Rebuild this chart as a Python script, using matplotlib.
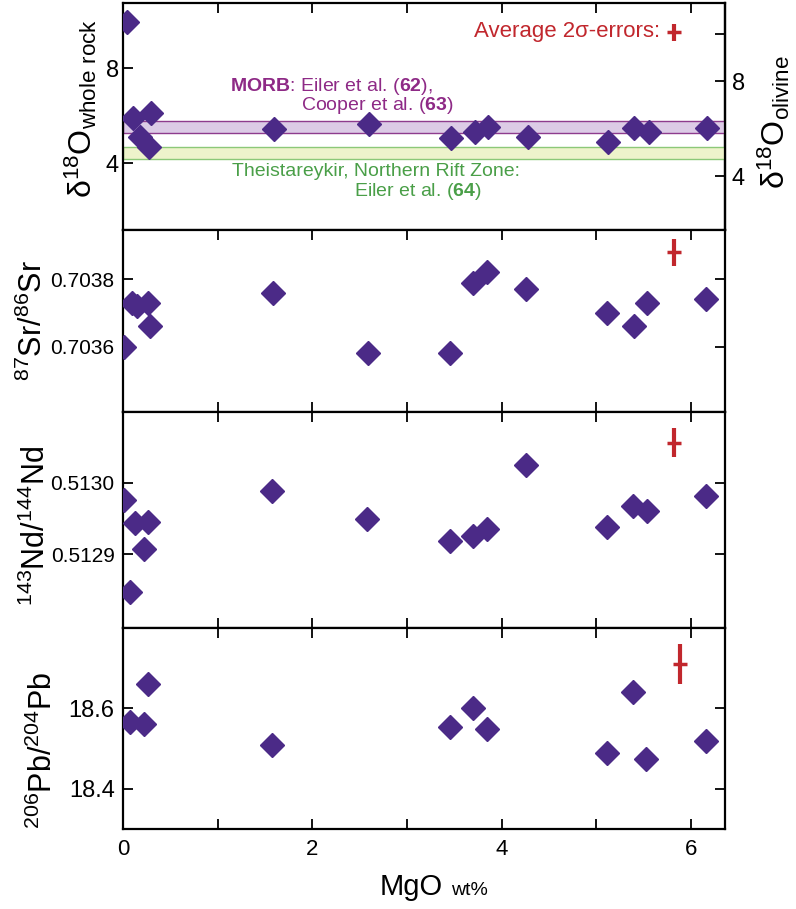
import matplotlib
matplotlib.use("Agg")
import matplotlib.pyplot as plt

plt.rcParams['font.family'] = ['Liberation Sans', 'DejaVu Sans']
plt.rcParams['mathtext.fontset'] = 'custom'
plt.rcParams['mathtext.rm'] = 'Liberation Sans'
plt.rcParams['mathtext.bf'] = 'Liberation Sans:bold'
plt.rcParams['mathtext.default'] = 'regular'

# data
o_mgo = [0.04, 0.11, 0.18, 0.27, 0.30, 1.59, 2.60, 3.47, 3.72, 3.86, 4.28, 5.12, 5.40, 5.56, 6.17]
o_d18 = [9.95, 5.88, 5.09, 4.67, 6.11, 5.43, 5.64, 5.05, 5.32, 5.53, 5.10, 4.90, 5.46, 5.32, 5.46]

sr_mgo = [0.01, 0.10, 0.15, 0.26, 0.29, 1.58, 2.59, 3.45, 3.70, 3.85, 4.26, 5.11, 5.40, 5.54, 6.16]
sr_ratio = [0.70360, 0.70373, 0.70372, 0.70373, 0.70366, 0.70376, 0.70358, 0.70358,
            0.70379, 0.70382, 0.70377, 0.70370, 0.70366, 0.70373, 0.70374]

nd_mgo = [0.01, 0.13, 0.26, 0.22, 0.07, 1.57, 2.58, 3.45, 3.70, 3.85, 4.26, 5.11, 5.39, 5.54, 6.16]
nd_ratio = [0.512976, 0.512944, 0.512945, 0.512908, 0.512847, 0.512989, 0.512950, 0.512919,
            0.512926, 0.512935, 0.513025, 0.512938, 0.512967, 0.512960, 0.512982]

pb_mgo = [0.07, 0.22, 0.26, 1.57, 3.45, 3.70, 3.85, 5.11, 5.39, 5.53, 6.16]
pb_ratio = [18.565, 18.560, 18.660, 18.510, 18.553, 18.600, 18.548, 18.490, 18.640, 18.473, 18.518]

morb_band = (5.25, 5.76)
theist_band = (4.16, 4.69)

# average 2 sigma errors (x, y, half length)
err_o = (5.82, 9.50, 0.35)
err_sr = (5.82, 0.70388, 0.00004)
err_nd = (5.82, 0.513056, 0.00002)
err_pb = (5.88, 18.71, 0.05)

olivine_offset = 0.55

dia = '#4b2a87'
red = '#c1272d'
purple = '#8e2a86'
green = '#4a9f48'

fig = plt.figure(figsize=(7.96, 9.09), dpi=100)
L, W = 123 / 796, 602 / 796
ax1 = fig.add_axes([L, 679 / 909, W, 227 / 909])
ax2 = fig.add_axes([L, 497 / 909, W, 182 / 909], sharex=ax1)
ax3 = fig.add_axes([L, 281 / 909, W, 216 / 909], sharex=ax1)
ax4 = fig.add_axes([L, 80 / 909, W, 201 / 909], sharex=ax1)


def draw_points(ax, x, y, err):
    ax.plot(x, y, 'D', color=dia, ms=12, mec=dia, zorder=3)
    ax.errorbar([err[0]], [err[1]], yerr=[err[2]], fmt='_', color=red, ms=10, mew=2.5,
                elinewidth=3, capsize=0, zorder=3)


for ax in (ax1, ax2, ax3, ax4):
    for s in ax.spines.values():
        s.set_linewidth(1.6)
    ax.set_xlim(0, 6.36)
    ax.set_xticks(range(0, 7))
    ax.tick_params(direction='in', length=7, width=1.3, top=True, right=True,
                   labelbottom=False, labelsize=15, pad=6)

# top panel: oxygen isotopes
ax1.axhspan(*morb_band, facecolor='#dccbe6', edgecolor='#8e3c8e', lw=1.0, zorder=1)
ax1.axhspan(*theist_band, facecolor='#eef3cb', edgecolor='#8cc878', lw=1.0, zorder=1)
draw_points(ax1, o_mgo, o_d18, err_o)
ax1.set_ylim(1.18, 10.74)
ax1.set_yticks([4, 8])
ax1.tick_params(axis='y', labelsize=17, pad=3, right=False)
ax1.tick_params(axis='x', bottom=False)
ax1.set_ylabel(r'δ$^{18}$O$_{whole\ rock}$', fontsize=23)
ax1.yaxis.set_label_coords(-0.040, 0.537)

sec = ax1.secondary_yaxis('right', functions=(lambda y: y + olivine_offset,
                                              lambda y: y - olivine_offset))
sec.set_yticks([4, 6, 8, 10], labels=['4', '', '8', ''])
sec.tick_params(direction='in', length=7, width=1.3, labelsize=17, pad=5)
sec.spines['right'].set_linewidth(1.6)
sec.set_ylabel(r'δ$^{18}$O$_{olivine}$', fontsize=23, va='top', rotation=90)
sec.yaxis.set_label_coords(1.05, 0.476, transform=ax1.transAxes)

ax1.text(1.13, 7.03, r'$\mathbf{MORB}$: Eiler et al. ($\mathbf{62}$),', color=purple, fontsize=14,
         va='baseline')
ax1.text(1.88, 6.23, r'Cooper et al. ($\mathbf{63}$)', color=purple, fontsize=14, va='baseline')
ax1.text(1.15, 3.45, 'Theistareykir, Northern Rift Zone:', color=green, fontsize=14, va='baseline')
ax1.text(2.44, 2.61, r'Eiler et al. ($\mathbf{64}$)', color=green, fontsize=14, va='baseline')
ax1.text(5.67, 9.31, 'Average 2σ-errors:', color=red, fontsize=16, va='baseline', ha='right')

# Sr
draw_points(ax2, sr_mgo, sr_ratio, err_sr)
ax2.set_ylim(0.703406, 0.703946)
ax2.set_yticks([0.7036, 0.7038], labels=['0.7036', '0.7038'])
ax2.set_ylabel(r'$^{87}$Sr/$^{86}$Sr', fontsize=22)
ax2.yaxis.set_label_coords(-0.123, 0.5)

# Nd
draw_points(ax3, nd_mgo, nd_ratio, err_nd)
ax3.set_ylim(0.512797, 0.513099)
ax3.set_yticks([0.5129, 0.5130], labels=['0.5129', '0.5130'])
ax3.set_ylabel(r'$^{143}$Nd/$^{144}$Nd', fontsize=22)
ax3.yaxis.set_label_coords(-0.118, 0.472)

# Pb
draw_points(ax4, pb_mgo, pb_ratio, err_pb)
ax4.set_ylim(18.30, 18.80)
ax4.set_yticks([18.4, 18.6], labels=['18.4', '18.6'])
ax4.tick_params(axis='y', labelsize=17)
ax4.set_ylabel(r'$^{206}$Pb/$^{204}$Pb', fontsize=22)
ax4.yaxis.set_label_coords(-0.106, 0.393)
ax4.set_xticks(range(0, 7), labels=['0', '', '2', '', '4', '', '6'])
ax4.tick_params(axis='x', labelbottom=True, labelsize=16, pad=7)

fig.text(443 / 796, 14 / 909, 'MgO', fontsize=21, ha='right', va='baseline')
fig.text(451 / 796, 14 / 909, 'wt%', fontsize=14, ha='left', va='baseline')

fig.savefig('out.png', dpi=100)
